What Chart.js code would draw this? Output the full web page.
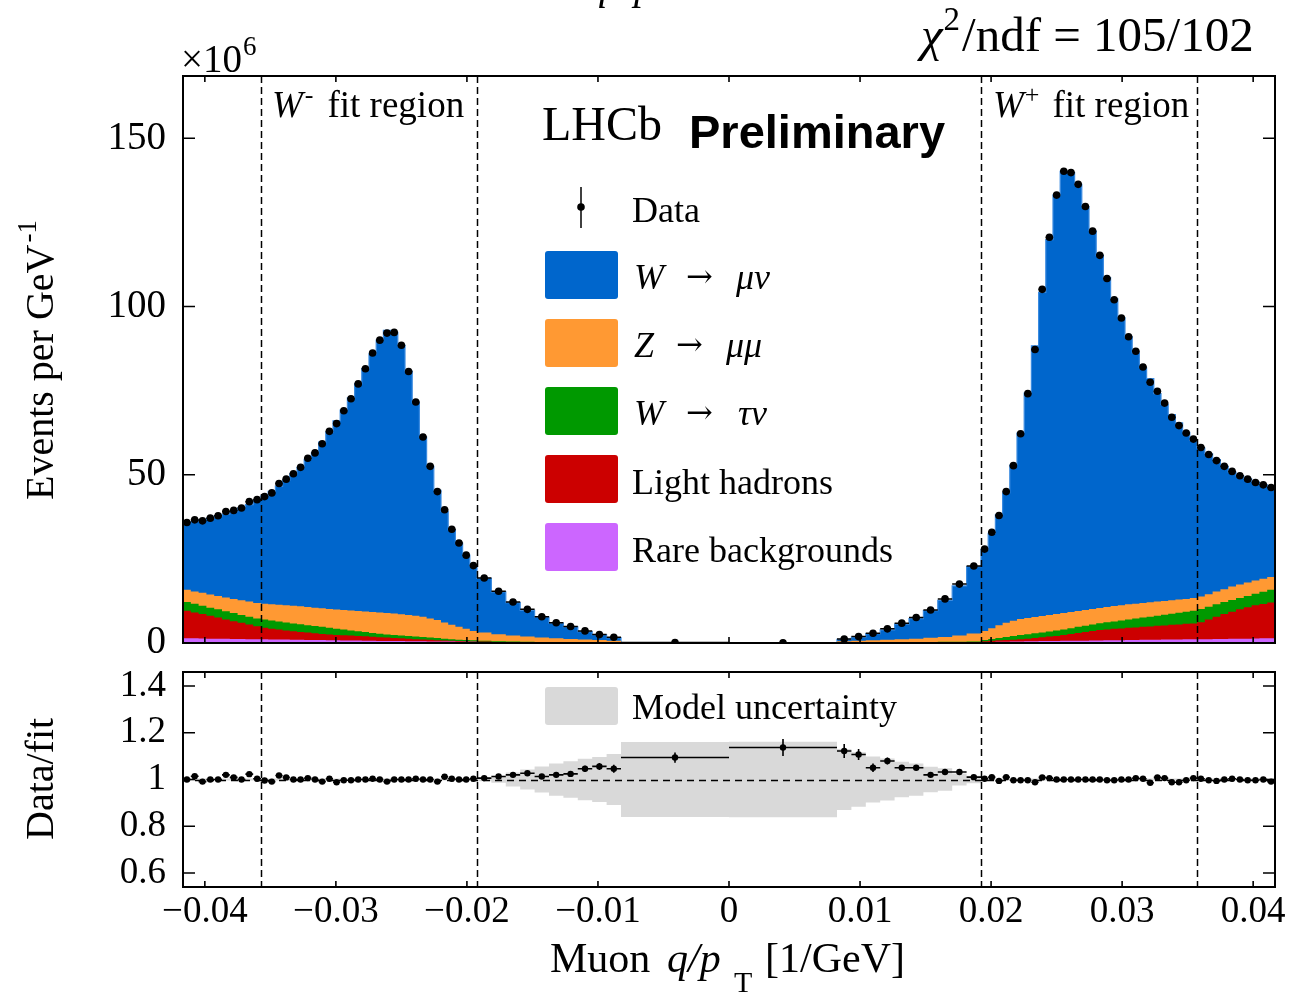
<!DOCTYPE html>
<html><head><meta charset="utf-8">
<script src="https://cdn.jsdelivr.net/npm/chart.js@4.4.0/dist/chart.umd.min.js"></script>
<style>
html,body{margin:0;padding:0;background:#fff;}
#wrap{position:relative;width:1289px;height:994px;overflow:hidden;}
canvas{position:absolute;left:0;top:0;}
</style></head><body>
<div id="wrap"><canvas id="cTop" width="1289" height="994"></canvas><canvas id="cBot" width="1289" height="994"></canvas></div>
<script>
// ---------------- DATA ----------------
// bin segments: [from, to, number of bins]  (q/pT in 1/GeV)
const binSegments = [
  [-1/24, -1/28, 10], [-1/28, -1/52, 30], [-1/52, -0.0082418, 10], [-0.0082418, 0, 1],
  [0, 0.0082418, 1], [0.0082418, 1/52, 10], [1/52, 1/28, 30], [1/28, 1/24, 10]
];
const fitRegionEdges = [-1/28, -1/52, 1/52, 1/28];
const xTicks = [-0.04, -0.03, -0.02, -0.01, 0, 0.01, 0.02, 0.03, 0.04];
const yTicksTop = [0, 50, 100, 150];
const yTicksRatio = [0.6, 0.8, 1, 1.2, 1.4];

// Data (x10^6 events per GeV^-1)
const dataValues = [
  35.8, 36.6, 36.3, 37.1, 37.8, 39.1, 39.4, 40.1, 42.0, 42.6,
  43.5, 44.6, 47.4, 48.7, 50.3, 52.2, 54.9, 56.5, 59.2, 62.9, 65.2, 69.0, 72.6, 77.0, 81.5,
  86.2, 90.0, 92.1, 92.3, 88.5, 80.7, 71.6, 61.2, 52.5, 45.0, 39.6, 33.8, 29.7, 26.1, 23.0,
  19.3, 15.4, 12.2, 10.0, 7.8, 6.0, 4.9, 3.6, 2.5, 1.7,
  0.12,
  0.08,
  1.2, 1.9, 2.9, 4.2, 5.9, 7.6, 9.8, 13.1, 17.5, 22.9,
  27.9, 32.9, 37.9, 45.0, 52.7, 62.2, 74.1, 87.2, 105.1, 120.6, 133.1, 140.2, 139.8, 136.3, 129.7,
  122.4, 115.2, 108.3, 102.0, 96.6, 91.0, 86.7, 82.0, 77.5, 74.8, 71.3, 67.1, 64.6, 62.4, 60.6,
  58.1, 56.0, 54.2, 52.5, 51.0, 49.7, 48.7, 47.7, 47.0, 46.2
];
const wMuNu = [
  20.0, 20.8, 21.7, 22.7, 23.8, 24.8, 25.9, 27.4, 28.8, 30.6,
  32.0, 33.5, 35.2, 37.1, 39.2, 41.3, 43.9, 46.0, 49.4, 52.6, 56.1, 59.4, 63.2, 67.5, 72.2,
  76.7, 81.0, 84.0, 83.6, 79.9, 72.4, 63.3, 53.4, 45.2, 38.6, 33.0, 28.3, 24.9, 21.9, 19.3,
  16.1, 12.6, 9.8, 7.8, 6.1, 4.5, 3.6, 2.35, 1.5, 0.9,
  0.06,
  0.03,
  0.57, 1.07, 1.96, 2.94, 4.52, 5.94, 8.06, 10.89, 14.76, 19.87,
  24.2, 28.2, 32.8, 38.6, 46.3, 55.3, 66.9, 80.6, 96.2, 111.6, 124.5, 131.3, 130.6, 126.8, 119.9,
  112.3, 104.8, 97.9, 91.3, 85.4, 79.5, 74.5, 69.9, 66.5, 61.8, 58.4, 55.2, 52.5, 49.5, 46.8,
  44.1, 41.7, 39.2, 36.5, 34.0, 32.3, 30.8, 29.2, 27.9, 27.0
];
const zMuMu = [
  3.6, 3.6, 3.8, 3.9, 4.0, 4.1, 4.2, 4.4, 4.5, 4.6,
  4.70, 4.85, 5.00, 5.15, 5.30, 5.35, 5.40, 5.45, 5.50, 5.60, 5.70, 5.80, 5.90, 6.00, 6.10,
  6.20, 6.30, 6.35, 6.35, 6.30, 6.25, 6.20, 6.05, 5.70, 5.35, 4.80, 4.25, 3.80, 3.30, 2.80,
  2.40, 2.05, 1.75, 1.53, 1.30, 1.15, 1.00, 0.89, 0.78, 0.61,
  0.04,
  0.03,
  0.43, 0.56, 0.68, 0.80, 0.91, 1.07, 1.27, 1.46, 1.80, 2.32,
  2.70, 3.20, 3.80, 4.20, 4.50, 4.70, 4.80, 4.80, 4.90, 4.90, 4.90, 4.90, 4.80, 4.70, 4.70,
  4.60, 4.50, 4.50, 4.60, 4.50, 4.50, 4.40, 4.30, 4.30, 4.20, 4.10, 4.00, 3.90, 3.80, 3.80,
  3.70, 3.70, 3.80, 3.80, 4.00, 4.00, 4.00, 4.00, 3.90, 3.80
];
const wTauNu = [
  2.6, 2.6, 2.5, 2.4, 2.4, 2.4, 2.4, 2.3, 2.3, 2.3,
  2.50, 2.45, 2.40, 2.35, 2.30, 2.25, 2.20, 2.15, 2.10, 2.00, 1.85, 1.70, 1.55, 1.40, 1.25,
  1.15, 1.05, 0.95, 0.90, 0.85, 0.80, 0.75, 0.70, 0.65, 0.60, 0.52, 0.45, 0.38, 0.35, 0.32,
  0.28, 0.22, 0.19, 0.17, 0.14, 0.12, 0.10, 0.08, 0.06, 0.05,
  0.005,
  0.005,
  0.03, 0.03, 0.04, 0.05, 0.06, 0.07, 0.08, 0.10, 0.12, 0.15,
  0.40, 0.55, 0.70, 0.90, 1.10, 1.30, 1.30, 1.40, 1.40, 1.50, 1.60, 1.60, 1.70, 1.80, 1.80,
  1.90, 2.00, 2.20, 2.20, 2.40, 2.50, 2.70, 2.80, 2.90, 3.00, 3.20, 3.30, 3.50, 3.60, 3.80,
  3.90, 3.80, 3.70, 3.60, 3.50, 3.40, 3.40, 3.40, 3.60, 3.80
];
const lightHadrons = [
  8.2, 7.7, 7.25, 6.8, 6.3, 5.75, 5.3, 4.8, 4.35, 3.9,
  3.40, 3.18, 2.96, 2.74, 2.52, 2.35, 2.18, 2.01, 1.84, 1.67, 1.60, 1.53, 1.46, 1.39, 1.32,
  1.20, 1.08, 1.00, 0.92, 0.84, 0.76, 0.63, 0.55, 0.47, 0.39, 0.34, 0.28, 0.22, 0.17, 0.12,
  0.10, 0.08, 0.06, 0.04, 0.04, 0.03, 0.02, 0.02, 0.02, 0.01,
  0.003,
  0.003,
  0.01, 0.02, 0.03, 0.03, 0.04, 0.05, 0.06, 0.07, 0.08, 0.09,
  0.20, 0.32, 0.44, 0.50, 0.56, 0.62, 0.79, 0.96, 1.13, 1.30, 1.48, 1.76, 2.04, 2.32, 2.60,
  2.87, 3.14, 3.21, 3.38, 3.45, 3.62, 3.69, 3.86, 3.93, 4.10, 4.18, 4.36, 4.44, 4.62, 4.70,
  5.10, 5.85, 6.60, 7.40, 8.05, 8.70, 9.30, 9.85, 10.20, 10.60
];
const rareBkg = [
  1.4, 1.4, 1.35, 1.3, 1.3, 1.25, 1.2, 1.2, 1.15, 1.1,
  1.10, 1.07, 1.04, 1.01, 0.98, 0.95, 0.92, 0.89, 0.86, 0.83, 0.80, 0.77, 0.74, 0.71, 0.68,
  0.65, 0.62, 0.60, 0.58, 0.56, 0.54, 0.52, 0.50, 0.48, 0.46, 0.44, 0.42, 0.40, 0.38, 0.36,
  0.32, 0.25, 0.20, 0.16, 0.12, 0.10, 0.08, 0.06, 0.04, 0.03,
  0.002,
  0.002,
  0.03, 0.04, 0.05, 0.07, 0.09, 0.11, 0.14, 0.17, 0.20, 0.24,
  0.30, 0.33, 0.36, 0.40, 0.44, 0.48, 0.51, 0.54, 0.57, 0.60, 0.62, 0.64, 0.66, 0.68, 0.70,
  0.73, 0.76, 0.79, 0.82, 0.85, 0.88, 0.91, 0.94, 0.97, 1.00, 1.02, 1.04, 1.06, 1.08, 1.10,
  1.10, 1.15, 1.20, 1.20, 1.25, 1.30, 1.30, 1.35, 1.40, 1.40
];
// Data / fit
const ratioValues = [
  1.000, 1.014, 0.991, 1.000, 1.000, 1.020, 1.009, 1.000, 1.023, 1.003,
  0.996, 0.991, 1.017, 1.009, 1.000, 1.000, 1.006, 1.000, 0.991, 1.003, 0.988, 0.997, 0.997, 1.000, 1.000,
  1.003, 1.000, 0.991, 1.000, 1.000, 1.000, 1.003, 1.000, 1.000, 0.991, 1.012, 1.003, 1.000, 1.000, 1.003,
  1.006, 1.013, 1.020, 1.027, 1.013, 1.020, 1.024, 1.046, 1.056, 1.046,
  1.094,
  1.137,
  1.122, 1.107, 1.050, 1.079, 1.050, 1.050, 1.020, 1.032, 1.032, 1.010,
  1.003, 1.010, 0.994, 1.010, 0.997, 0.997, 0.997, 0.988, 1.009, 1.006, 1.000, 1.000, 1.000, 1.000, 1.000,
  1.000, 1.000, 0.997, 0.997, 1.000, 1.000, 1.006, 1.003, 0.986, 1.009, 1.006, 0.988, 0.988, 0.997, 1.006,
  1.003, 0.997, 0.994, 1.000, 1.003, 1.000, 0.997, 0.997, 1.000, 0.991
];
const ratioErrors = [
  0.004, 0.004, 0.004, 0.004, 0.004, 0.004, 0.004, 0.004, 0.004, 0.004,
  0.004, 0.004, 0.004, 0.004, 0.004, 0.004, 0.004, 0.004, 0.004, 0.004, 0.004, 0.004, 0.004, 0.004, 0.004,
  0.004, 0.004, 0.004, 0.004, 0.004, 0.004, 0.004, 0.004, 0.004, 0.004, 0.004, 0.004, 0.004, 0.004, 0.004,
  0.006, 0.006, 0.007, 0.008, 0.009, 0.010, 0.011, 0.013, 0.015, 0.017,
  0.022,
  0.036,
  0.030, 0.024, 0.018, 0.015, 0.012, 0.010, 0.008, 0.007, 0.006, 0.005,
  0.004, 0.004, 0.004, 0.004, 0.004, 0.004, 0.004, 0.004, 0.004, 0.004, 0.004, 0.004, 0.004, 0.004, 0.004,
  0.004, 0.004, 0.004, 0.004, 0.004, 0.004, 0.004, 0.004, 0.004, 0.004, 0.004, 0.004, 0.004, 0.004, 0.004,
  0.004, 0.004, 0.004, 0.004, 0.004, 0.004, 0.004, 0.004, 0.004, 0.004
];
// Model uncertainty (half width of band around 1)
const modelUncertainty = [
  0.004, 0.004, 0.004, 0.004, 0.004, 0.004, 0.004, 0.004, 0.004, 0.004,
  0.004, 0.004, 0.004, 0.004, 0.004, 0.004, 0.004, 0.004, 0.004, 0.004, 0.004, 0.004, 0.004, 0.004, 0.004,
  0.004, 0.004, 0.004, 0.004, 0.004, 0.004, 0.004, 0.004, 0.004, 0.004, 0.004, 0.004, 0.004, 0.004, 0.004,
  0.007, 0.014, 0.030, 0.043, 0.056, 0.069, 0.078, 0.089, 0.096, 0.109,
  0.160,
  0.162,
  0.130, 0.117, 0.098, 0.090, 0.076, 0.069, 0.055, 0.048, 0.026, 0.016,
  0.004, 0.004, 0.004, 0.004, 0.004, 0.004, 0.004, 0.004, 0.004, 0.004, 0.004, 0.004, 0.004, 0.004, 0.004,
  0.004, 0.004, 0.004, 0.004, 0.004, 0.004, 0.004, 0.004, 0.004, 0.004, 0.004, 0.004, 0.004, 0.004, 0.004,
  0.004, 0.004, 0.004, 0.004, 0.004, 0.004, 0.004, 0.004, 0.004, 0.004
];

// ---------------- HELPERS ----------------
const SERIF = '"Liberation Serif", "Times New Roman", serif';
const SANS = '"Liberation Sans", Arial, sans-serif';
const F = (size, style) => `${style || ''} ${size}px ${SERIF}`;
const COL = { w: '#0066CC', z: '#FF9933', tau: '#009900', lh: '#CC0000', rare: '#CC66FF', band: '#d9d9d9' };

const edges = [binSegments[0][0]];
binSegments.forEach(([a, b, n]) => { for (let i = 1; i <= n; i++) edges.push(a + (b - a) * i / n); });
const centers = edges.slice(0, -1).map((e, i) => (e + edges[i + 1]) / 2);

// one point per bin at its left edge, plus a closing point at the last right edge;
// drawn with stepped:'before' so each bin keeps its own value across its width
function stepped(vals) {
  const p = vals.map((v, i) => ({ x: edges[i], y: v }));
  p.push({ x: edges[vals.length], y: vals[vals.length - 1] });
  return p;
}
function cumulate(...arrs) { return arrs[0].map((_, i) => arrs.reduce((s, a) => s + a[i], 0)); }

function runs(ctx, x, y, parts) {
  let cx = x;
  for (const p of parts) {
    const [t, f, dy = 0, dx = 0] = p;
    ctx.font = f; cx += dx;
    ctx.fillText(t, cx, y + dy);
    cx += ctx.measureText(t).width;
  }
  return cx;
}
function frameAndTicks(chart, yTicks, xLen, yLen) {
  const { ctx, chartArea: a, scales: { x, y } } = chart;
  ctx.save();
  ctx.strokeStyle = '#000'; ctx.lineWidth = 2; ctx.setLineDash([]);
  ctx.strokeRect(a.left, a.top, a.right - a.left, a.bottom - a.top);
  ctx.lineWidth = 1.6;
  ctx.beginPath();
  xTicks.forEach(v => {
    const px = x.getPixelForValue(v);
    ctx.moveTo(px, a.bottom); ctx.lineTo(px, a.bottom - xLen);
    ctx.moveTo(px, a.top); ctx.lineTo(px, a.top + xLen);
  });
  yTicks.forEach(v => {
    const py = y.getPixelForValue(v);
    ctx.moveTo(a.left, py); ctx.lineTo(a.left + yLen, py);
    ctx.moveTo(a.right, py); ctx.lineTo(a.right - yLen, py);
  });
  ctx.stroke();
  ctx.restore();
}
function dashedFitLines(chart) {
  const { ctx, chartArea: a, scales: { x } } = chart;
  ctx.save();
  ctx.strokeStyle = '#000'; ctx.lineWidth = 1.5; ctx.setLineDash([7, 4]);
  fitRegionEdges.forEach(v => {
    const px = Math.round(x.getPixelForValue(v)) + 0.5;
    ctx.beginPath(); ctx.moveTo(px, a.top); ctx.lineTo(px, a.bottom); ctx.stroke();
  });
  ctx.restore();
}
function roundBox(ctx, x, y, w, h, r, color) {
  ctx.fillStyle = color;
  ctx.beginPath();
  if (ctx.roundRect) ctx.roundRect(x, y, w, h, r); else ctx.rect(x, y, w, h);
  ctx.fill();
}

const cRare = rareBkg;
const cLH = cumulate(rareBkg, lightHadrons);
const cTau = cumulate(rareBkg, lightHadrons, wTauNu);
const cZ = cumulate(rareBkg, lightHadrons, wTauNu, zMuMu);
const cW = cumulate(rareBkg, lightHadrons, wTauNu, zMuMu, wMuNu);

function histDS(label, vals, color, border) {
  return { label, data: stepped(vals), stepped: 'before', fill: 'origin', backgroundColor: color,
    borderColor: border || 'rgba(0,0,0,0)', borderWidth: border ? 1.2 : 0, pointRadius: 0, pointHoverRadius: 0 };
}

// ---------------- TOP PANEL ----------------
const topPlugin = {
  id: 'topDeco',
  beforeDatasetDraw(chart, args) {
    if (args.index !== 0) return;
    dashedFitLines(chart);
    const { ctx, scales: { x, y } } = chart;
    ctx.save(); ctx.strokeStyle = '#000'; ctx.lineWidth = 1.5;
    ctx.beginPath();
    dataValues.forEach((v, i) => {
      const py = y.getPixelForValue(v);
      ctx.moveTo(x.getPixelForValue(edges[i]), py); ctx.lineTo(x.getPixelForValue(edges[i + 1]), py);
    });
    ctx.stroke(); ctx.restore();
  },
  afterDraw(chart) {
    frameAndTicks(chart, yTicksTop, 6, 12);
    const ctx = chart.ctx;
    ctx.save();
    ctx.fillStyle = '#000'; ctx.textAlign = 'left'; ctx.textBaseline = 'alphabetic';
    // cut-off title at the very top
    ctx.font = F(40, 'italic'); ctx.fillText('q', 588, -1); ctx.fillText('/', 610, -1); ctx.fillText('p', 634, -1);
    runs(ctx, 181, 72, [['×10', F(39)], ['6', F(27), -17, 1]]);
    runs(ctx, 921, 51, [['χ', F(49, 'italic')], ['2', F(33), -21, 1], ['/ndf = 105/102', F(49), 0, 2]]);
    runs(ctx, 272, 117, [['W', F(37, 'italic')], ['-', F(26), -14, 2], ['fit region', F(37), 0, 14]]);
    runs(ctx, 993, 117, [['W', F(37, 'italic')], ['+', F(26), -14, 1], ['fit region', F(37), 0, 13]]);
    ctx.font = F(48); ctx.fillText('LHCb', 542, 140);
    ctx.font = `bold 47px ${SANS}`; ctx.fillText('Preliminary', 689, 148);
    // legend
    ctx.strokeStyle = '#000'; ctx.lineWidth = 1.5;
    ctx.beginPath(); ctx.moveTo(581, 187); ctx.lineTo(581, 228); ctx.stroke();
    ctx.beginPath(); ctx.arc(581, 207, 3.8, 0, Math.PI * 2); ctx.fill();
    ctx.font = F(36); ctx.fillText('Data', 632, 222);
    const boxes = [[251, COL.w], [319, COL.z], [387, COL.tau], [455, COL.lh], [523, COL.rare]];
    boxes.forEach(([y0, c]) => roundBox(ctx, 545, y0, 73, 48, 3, c));
    ctx.fillStyle = '#000';
    const ARROW = '32px "DejaVu Serif", serif';
    ctx.font = F(36, 'italic'); ctx.fillText('W', 634, 289);
    ctx.font = ARROW; ctx.fillText('→', 686, 287);
    ctx.font = F(36, 'italic'); ctx.fillText('μν', 736, 289);
    ctx.font = F(36, 'italic'); ctx.fillText('Z', 634, 357);
    ctx.font = ARROW; ctx.fillText('→', 676, 355);
    ctx.font = F(36, 'italic'); ctx.fillText('μμ', 726, 357);
    ctx.font = F(36, 'italic'); ctx.fillText('W', 634, 425);
    ctx.font = ARROW; ctx.fillText('→', 686, 423);
    ctx.font = F(36, 'italic'); ctx.fillText('τν', 738, 425);
    ctx.font = F(36); ctx.fillText('Light hadrons', 632, 494);
    ctx.fillText('Rare backgrounds', 632, 562);
    // y title
    ctx.save(); ctx.translate(53, 500); ctx.rotate(-Math.PI / 2);
    runs(ctx, 0, 0, [['Events per GeV', F(40)], ['-1', F(27), -17, 2]]);
    ctx.restore();
    ctx.restore();
  }
};

new Chart(document.getElementById('cTop'), {
  type: 'line',
  data: {
    datasets: [
      { label: 'Data', data: centers.map((x, i) => ({ x, y: dataValues[i] })), showLine: false,
        pointRadius: 3.8, pointHoverRadius: 3.8, pointBackgroundColor: '#000', pointBorderColor: '#000', pointBorderWidth: 0 },
      histDS('Rare backgrounds', cRare, COL.rare),
      histDS('Light hadrons', cLH, COL.lh),
      histDS('W → τν', cTau, COL.tau),
      histDS('Z → μμ', cZ, COL.z),
      histDS('W → μν', cW, COL.w, '#3b8be0')
    ]
  },
  options: {
    responsive: false, maintainAspectRatio: false, animation: false, devicePixelRatio: 1,
    layout: { padding: { left: 0, right: 14, top: 76, bottom: 351 } },
    plugins: { legend: { display: false }, tooltip: { enabled: false } },
    events: [],
    scales: {
      x: { type: 'linear', min: -1/24, max: 1/24, grid: { display: false, drawTicks: false }, border: { display: false },
        ticks: { display: false }, afterFit: s => { s.height = 0; } },
      y: { type: 'linear', min: 0, max: 168.5, grid: { display: false, drawTicks: false }, border: { display: false },
        afterBuildTicks: s => { s.ticks = yTicksTop.map(v => ({ value: v })); },
        ticks: { autoSkip: false, padding: 17, color: '#000', font: { family: SERIF, size: 39 }, callback: v => String(v) },
        afterFit: s => { s.width = 183; } }
    }
  },
  plugins: [topPlugin]
});

// ---------------- RATIO PANEL ----------------
const bandHi = ratioValues.map((_, i) => 1 + modelUncertainty[i]);
const bandLo = ratioValues.map((_, i) => 1 - modelUncertainty[i]);

const botPlugin = {
  id: 'botDeco',
  beforeDatasetDraw(chart, args) {
    if (args.index !== 0) return;
    const { ctx, chartArea: a, scales: { x, y } } = chart;
    dashedFitLines(chart);
    ctx.save(); ctx.strokeStyle = '#000'; ctx.lineWidth = 1.5; ctx.setLineDash([7, 5]);
    const p1 = Math.round(y.getPixelForValue(1)) + 0.5;
    ctx.beginPath(); ctx.moveTo(a.left, p1); ctx.lineTo(a.right, p1); ctx.stroke();
    ctx.setLineDash([]); ctx.lineWidth = 1.6;
    ctx.beginPath();
    ratioValues.forEach((v, i) => {
      const py = y.getPixelForValue(v), px = x.getPixelForValue(centers[i]);
      ctx.moveTo(x.getPixelForValue(edges[i]), py); ctx.lineTo(x.getPixelForValue(edges[i + 1]), py);
      ctx.moveTo(px, y.getPixelForValue(v - ratioErrors[i])); ctx.lineTo(px, y.getPixelForValue(v + ratioErrors[i]));
    });
    ctx.stroke(); ctx.restore();
  },
  afterDraw(chart) {
    frameAndTicks(chart, yTicksRatio, 6, 12);
    const ctx = chart.ctx;
    ctx.save(); ctx.fillStyle = '#000'; ctx.textAlign = 'left'; ctx.textBaseline = 'alphabetic';
    roundBox(ctx, 545, 687, 73, 38, 3, COL.band);
    ctx.fillStyle = '#000'; ctx.font = F(36); ctx.fillText('Model uncertainty', 632, 719);
    ctx.save(); ctx.translate(53, 840); ctx.rotate(-Math.PI / 2);
    ctx.font = F(40); ctx.fillText('Data/fit', 0, 0);
    ctx.restore();
    ctx.font = F(42); ctx.fillText('Muon', 550, 972);
    ctx.font = F(42, 'italic'); ctx.fillText('q/p', 667, 972);
    ctx.font = F(30); ctx.fillText('T', 734, 992);
    ctx.font = F(42); ctx.fillText('[1/GeV]', 765, 972);
    ctx.restore();
  }
};

new Chart(document.getElementById('cBot'), {
  type: 'line',
  data: {
    datasets: [
      { label: 'Data/fit', data: centers.map((x, i) => ({ x, y: ratioValues[i] })), showLine: false,
        pointRadius: 3.2, pointHoverRadius: 3.2, pointBackgroundColor: '#000', pointBorderColor: '#000', pointBorderWidth: 0 },
      { label: 'Model uncertainty', data: stepped(bandHi), stepped: 'before', fill: 2, backgroundColor: COL.band,
        borderColor: 'rgba(0,0,0,0)', borderWidth: 0, pointRadius: 0 },
      { label: 'band low', data: stepped(bandLo), stepped: 'before', fill: false,
        borderColor: 'rgba(0,0,0,0)', borderWidth: 0, pointRadius: 0 }
    ]
  },
  options: {
    responsive: false, maintainAspectRatio: false, animation: false, devicePixelRatio: 1,
    layout: { padding: { left: 0, right: 14, top: 672, bottom: 0 } },
    plugins: { legend: { display: false }, tooltip: { enabled: false } },
    events: [],
    scales: {
      x: { type: 'linear', min: -1/24, max: 1/24, grid: { display: false, drawTicks: false }, border: { display: false },
        afterBuildTicks: s => { s.ticks = xTicks.map(v => ({ value: v })); },
        ticks: { autoSkip: false, maxRotation: 0, minRotation: 0, padding: 3, color: '#000', font: { family: SERIF, size: 37 },
          callback: v => (v === 0 ? '0' : (v < 0 ? '−' : '') + Math.abs(v).toFixed(2)) },
        afterFit: s => { s.height = 107; } },
      y: { type: 'linear', min: 0.54, max: 1.46, grid: { display: false, drawTicks: false }, border: { display: false },
        afterBuildTicks: s => { s.ticks = yTicksRatio.map(v => ({ value: v })); },
        ticks: { autoSkip: false, padding: 17, color: '#000', font: { family: SERIF, size: 37 }, callback: v => String(v) },
        afterFit: s => { s.width = 183; } }
    }
  },
  plugins: [botPlugin]
});
</script>
</body></html>
